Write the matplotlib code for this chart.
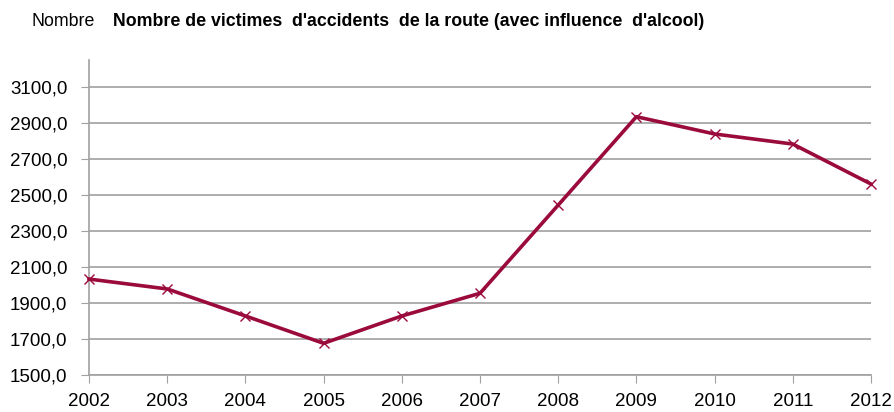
import matplotlib
matplotlib.use("Agg")
import matplotlib.pyplot as plt
from matplotlib.ticker import FuncFormatter

years = [2002, 2003, 2004, 2005, 2006, 2007, 2008, 2009, 2010, 2011, 2012]
victims = [2033, 1978, 1828, 1676, 1828, 1954, 2444, 2935, 2839, 2783, 2561]
yticks = [1500, 1700, 1900, 2100, 2300, 2500, 2700, 2900, 3100]

plt.rcParams['font.family'] = ['Liberation Sans', 'DejaVu Sans']

fig = plt.figure(figsize=(8.95, 4.12), dpi=100)
ax = fig.add_axes([89/895, 1-375/412, (871-89)/895, (375-60)/412])

ax.plot(years, victims, color='#9B0A3C', lw=2.6, marker='x', ms=7, mew=1.0, zorder=3,
        clip_on=False)
ax.set_xlim(2002, 2012)
ax.set_ylim(1500, 3250)
ax.set_yticks(yticks)
ax.set_xticks(years)
ax.yaxis.set_major_formatter(FuncFormatter(lambda v, p: f"{v:.1f}".replace('.', ',')))
ax.grid(axis='y', color='#A0A0A0', lw=1.2)
ax.set_axisbelow(True)
for s in ['top', 'right']:
    ax.spines[s].set_visible(False)
for s in ['left', 'bottom']:
    ax.spines[s].set_color('#A0A0A0')
    ax.spines[s].set_linewidth(1.2)
ax.tick_params(axis='y', length=6, color='#A0A0A0', labelsize=13.5, pad=9.5)
ax.tick_params(axis='x', length=6, color='#A0A0A0', labelsize=13.5, pad=7)
ax.spines['bottom'].set_zorder(4)

fig.text(32/895, 1-22/412, "Nombre", fontsize=12.8, va='center', ha='left')
fig.text(113/895, 1-22/412, "Nombre de victimes  d'accidents  de la route (avec influence  d'alcool)",
         fontsize=12.8, fontweight='bold', va='center', ha='left')

fig.savefig("out.png", dpi=100)
